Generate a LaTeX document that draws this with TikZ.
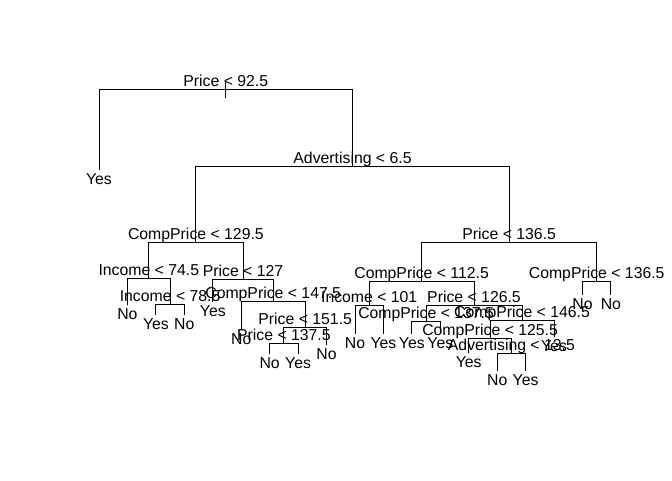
\documentclass[tikz,border=0pt]{standalone}
\usepackage{fontspec}
\setmainfont{Liberation Sans}
\begin{document}
\begin{tikzpicture}[x=1pt,y=-1pt,line width=1pt,
  split/.style={anchor=base,yshift=3pt,inner sep=0pt,font=\fontsize{15.8}{18}\selectfont},
  leaf/.style={anchor=base,yshift=-14pt,inner sep=0pt,font=\fontsize{15.8}{18}\selectfont}]
\useasboundingbox (0,0) rectangle (672,480);
% split nodes
\foreach \n/\x/\y/\t in {price92/225.8/89/Price < 92.5, adv6/352.5/166/Advertising < 6.5,
  comp129/195.9/242/CompPrice < 129.5, price136/509.2/242/Price < 136.5,
  inc74/148.8/278/Income < 74.5, inc78/170.1/304/Income < 78.5,
  price127/243/279/Price < 127, comp147/273.2/301/CompPrice < 147.5,
  price151/305.2/327/Price < 151.5, price137/283.9/343/Price < 137.5,
  comp112/421.6/281/CompPrice < 112.5, inc101/369.2/305/Income < 101,
  price126/474/305/Price < 126.5, comp137/426.1/321/CompPrice < 137.5,
  comp146/522/320/CompPrice < 146.5, comp125/490.1/338/CompPrice < 125.5,
  adv13/511.4/353/Advertising < 13.5, comp136/596.7/281/CompPrice < 136.5} {
  \coordinate (\n) at (\x,\y);
  \node[split] (\n-t) at (\n) {\t};
}
% leaves
\foreach \n/\x/\y/\t in {yes1/99/170/Yes, no2/127.4/305/No, yes3/155.9/315/Yes, no4/184.3/315/No,
  yes5/212.8/302/Yes, no6/241.2/330/No, no7/269.6/354/No, yes8/298.1/354/Yes, no9/326.5/345/No,
  no10/355/334/No, yes11/383.4/334/Yes, yes12/411.8/334/Yes, yes13/440.3/334/Yes,
  yes14/468.7/353/Yes, no15/497.2/371/No, yes16/525.6/371/Yes, yes17/554/337/Yes,
  no18/582.5/295/No, no19/610.9/295/No} {
  \coordinate (\n) at (\x,\y);
  \node[leaf] (\n-t) at (\n) {\t};
}
% branches
\foreach \a/\b in {price92/yes1, price92/adv6, adv6/comp129, adv6/price136,
  comp129/inc74, comp129/price127, inc74/no2, inc74/inc78, inc78/yes3, inc78/no4,
  price127/yes5, price127/comp147, comp147/no6, comp147/price151,
  price151/price137, price151/no9, price137/no7, price137/yes8,
  price136/comp112, price136/comp136, comp112/inc101, comp112/price126,
  inc101/no10, inc101/yes11, price126/comp137, price126/comp146,
  comp137/yes12, comp137/yes13, comp146/comp125, comp146/yes17,
  comp125/yes14, comp125/adv13, adv13/no15, adv13/yes16,
  comp136/no18, comp136/no19} {
  \draw (\a) -| (\b);
}
\draw ([yshift=7pt]price92) -- ([yshift=-9pt]price92);
\end{tikzpicture}
\end{document}
